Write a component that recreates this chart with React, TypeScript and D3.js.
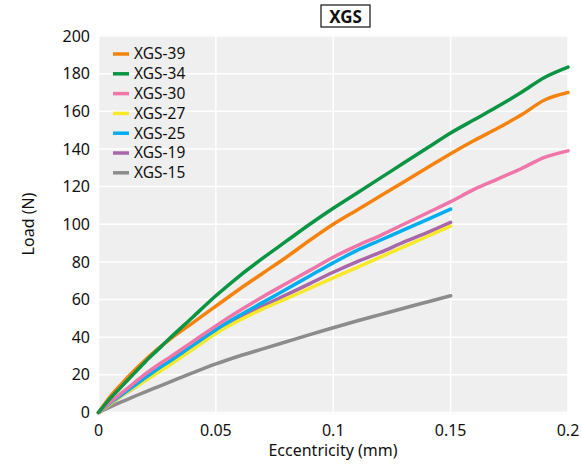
import React from "react";
import * as d3 from "d3";

const ecc = [0, 0.005, 0.01, 0.015, 0.02, 0.025, 0.03, 0.04, 0.05, 0.06, 0.07, 0.08, 0.09, 0.1, 0.11, 0.12, 0.13, 0.14, 0.15, 0.16, 0.17, 0.18, 0.19, 0.2];

const xgs39 = [0, 8.5, 15.5, 22, 28, 33.5, 38.5, 47.5, 56.5, 65.5, 74, 82.5, 91.5, 100, 107.5, 115, 122.5, 130, 137.5, 144.5, 151, 158, 166, 170];
const xgs34 = [0, 7.5, 14, 20.5, 27, 33, 39, 50.5, 62, 72.5, 82, 91, 100, 108.5, 116.5, 124.5, 132.5, 140.5, 148.5, 155.5, 162.5, 170, 178, 183.5];
const xgs30 = [0, 5.5, 10.5, 15.5, 20.5, 25, 29, 37.5, 46, 54, 61.5, 68.5, 75.5, 82.5, 88.5, 94, 100, 106, 112, 118.5, 124, 129.5, 135.5, 139];
const xgs27 = [0, 4.5, 9, 13, 17, 21, 25, 33.5, 42, 49, 55, 60.5, 66, 71.5, 77, 82.5, 88, 93.5, 99];
const xgs25 = [0, 5, 9.5, 14, 18.5, 23, 27, 35.5, 44, 51.5, 58.5, 65.5, 72.5, 79.5, 86, 91.5, 97, 102.5, 108];
const xgs19 = [0, 4.5, 9, 13, 17.5, 22, 26, 34, 42.5, 50, 56.5, 62.5, 68.5, 74.5, 80, 85, 90.5, 95.5, 101];
const xgs15 = [0, 3, 5.8, 8.4, 11, 13.5, 16, 21, 25.8, 30, 33.8, 37.6, 41.4, 45, 48.6, 52, 55.4, 58.7, 62];

const seriesNames = ["XGS-39", "XGS-34", "XGS-30", "XGS-27", "XGS-25", "XGS-19", "XGS-15"];
const seriesValues = [xgs39, xgs34, xgs30, xgs27, xgs25, xgs19, xgs15];
const seriesColors = ["#f5820d", "#0b9444", "#f075a8", "#f7e82a", "#00aeef", "#a867a8", "#8c8c8c"];
const drawOrder = [6, 5, 3, 4, 2, 0, 1];

const xTicks = [0, 0.05, 0.1, 0.15, 0.2];
const xTickLabels = ["0", "0.05", "0.1", "0.15", "0.2"];
const yTicks = [0, 20, 40, 60, 80, 100, 120, 140, 160, 180, 200];

const W = 581, H = 464;
const FONT = "'Noto Sans', 'Open Sans', sans-serif";

export default function App() {
  const x = d3.scaleLinear().domain([0, 0.2]).range([98.5, 568]);
  const y = d3.scaleLinear().domain([0, 200]).range([412.5, 36]);
  const line = d3
    .line<[number, number]>()
    .x((d) => x(d[0]))
    .y((d) => y(d[1]))
    .curve(d3.curveMonotoneX);

  return (
    <svg width={W} height={H} style={{ position: "absolute", left: 0, top: 0 }} fontFamily={FONT}>
      <rect x={0} y={0} width={W} height={H} fill="#ffffff" />
      <rect x={x(0)} y={y(200) - 1} width={x(0.2) - x(0)} height={y(0) - y(200) + 2} fill="#efefef" />
      {yTicks.map((t) => (
        <line key={"gy" + t} x1={x(0)} x2={x(0.2)} y1={y(t)} y2={y(t)} stroke="#ffffff" strokeWidth={1.5} />
      ))}
      {xTicks.map((t) => (
        <line key={"gx" + t} x1={x(t)} x2={x(t)} y1={y(0)} y2={y(200)} stroke="#ffffff" strokeWidth={1.5} />
      ))}
      {yTicks.map((t) => (
        <text key={"ty" + t} x={90} y={y(t)} dy="0.35em" textAnchor="end" fontSize={16} fill="#111">
          {t}
        </text>
      ))}
      {xTicks.map((t, i) => (
        <text key={"tx" + t} x={x(t)} y={430} dy="0.35em" textAnchor="middle" fontSize={16} fill="#111">
          {xTickLabels[i]}
        </text>
      ))}
      <text x={333} y={456} textAnchor="middle" fontSize={16} fill="#111">
        Eccentricity (mm)
      </text>
      <text transform={`translate(28,${224}) rotate(-90)`} textAnchor="middle" dy="0.35em" fontSize={16} fill="#111">
        Load (N)
      </text>
      {drawOrder.map((i) => {
        const vals = seriesValues[i];
        const pts: [number, number][] = vals.map((v, k) => [ecc[k], v]);
        return (
          <path key={seriesNames[i]} d={line(pts) || ""} fill="none" stroke={seriesColors[i]} strokeWidth={3.5} strokeLinecap="round" strokeLinejoin="round" />
        );
      })}
      {seriesNames.map((n, i) => (
        <g key={"lg" + n} transform={`translate(0,${54 + i * 19.8})`}>
          <line x1={113} x2={129} y1={0} y2={0} stroke={seriesColors[i]} strokeWidth={3.5} />
          <text x={134} y={0} dy="0.35em" fontSize={15.5} fill="#111">
            {n}
          </text>
        </g>
      ))}
      <rect x={321} y={5} width={49} height={22} fill="#ffffff" stroke="#111" strokeWidth={1.2} />
      <text x={345.5} y={16.5} dy="0.36em" textAnchor="middle" fontSize={17} fontWeight="bold" fill="#111">
        XGS
      </text>
    </svg>
  );
}
